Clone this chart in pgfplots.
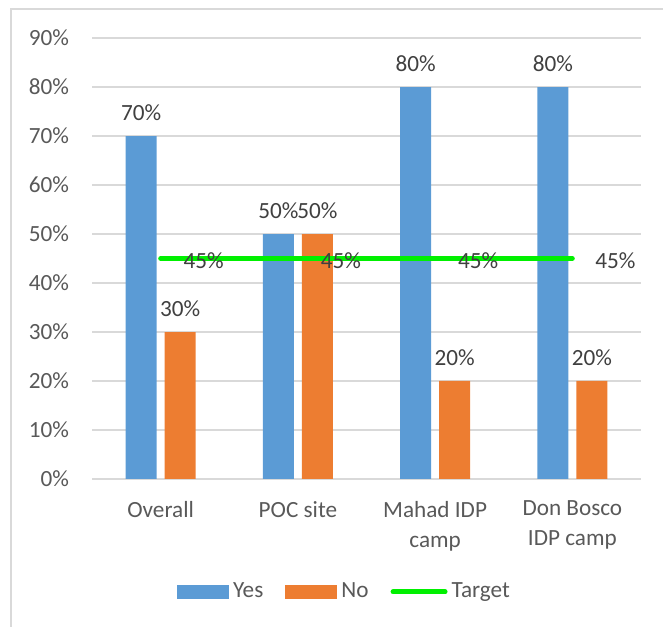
\documentclass[border=0pt]{standalone}
\usepackage{fontspec}
\setmainfont{Carlito}
\usepackage{pgfplots}
\pgfplotsset{compat=1.18}

\definecolor{yescol}{RGB}{91,155,213}
\definecolor{nocol}{RGB}{237,125,49}
\definecolor{tgtcol}{RGB}{0,240,0}
\definecolor{gridcol}{RGB}{217,217,217}
\definecolor{lblcol}{RGB}{64,64,64}
\definecolor{tickcol}{RGB}{89,89,89}

\newcommand{\chartfont}{\fontsize{11.6}{15}\selectfont}

\begin{document}
\begin{tikzpicture}
% picture frame; 0.5pt = one pixel of the reference
\useasboundingbox (0pt,0pt) rectangle (331.5pt,313pt);
\draw[gridcol, line width=1pt] (5.5pt,-10pt) -- (5.5pt,308.5pt) -- (350pt,308.5pt);
\begin{axis}[
  at={(46pt,73.5pt)}, anchor=south west,
  scale only axis, width=274.5pt, height=220.5pt,
  xmin=-0.5, xmax=3.5, ymin=0, ymax=90,
  axis line style={draw=none},
  major tick length=0pt,
  ymajorgrids, grid style={gridcol, line width=0.75pt},
  ytick={0,10,...,90},
  xtick={0,1,2,3},
  xticklabels={Overall, POC site, {Mahad IDP\\camp}, {Don Bosco\\IDP camp}},
  /pgf/number format/assume math mode=true,
  yticklabel={\pgfmathprintnumber{\tick}\%},
  tick label style={font=\chartfont, text=tickcol},
  yticklabel style={xshift=-8pt},
  xticklabel style={align=center, yshift=-7.5pt},
  legend style={at={(0.4617,-0.256)}, anchor=center, draw=none,
    font=\chartfont, text=tickcol, legend columns=3,
    nodes={inner xsep=2pt},
    /tikz/every even column/.append style={column sep=9pt}},
  nodes near coords={\pgfmathprintnumber{\pgfplotspointmeta}\%},
  every node near coord/.append style={font=\chartfont, text=lblcol},
]
\addplot[ybar, bar width=15.5pt, bar shift=-9.75pt, fill=yescol, draw=none,
  every node near coord/.append style={xshift=-9.75pt, yshift=4pt},
  legend image code/.code={\fill[yescol] (0pt,-3.5pt) rectangle (26pt,3.5pt);}]
  coordinates {(0,70) (1,50) (2,80) (3,80)};
\addplot[ybar, bar width=15.5pt, bar shift=9.75pt, fill=nocol, draw=none,
  every node near coord/.append style={xshift=9.75pt, yshift=4pt},
  legend image code/.code={\fill[nocol] (0pt,-3.5pt) rectangle (26pt,3.5pt);}]
  coordinates {(0,30) (1,50) (2,20) (3,20)};
\addplot[tgtcol, line width=2.4pt, line cap=round, mark=none,
  every node near coord/.append style={anchor=west, xshift=7pt, yshift=-1pt},
  legend image code/.code={\draw[tgtcol, line width=2.5pt, line cap=round] (1pt,0pt) -- (27pt,0pt);}]
  coordinates {(0,45) (1,45) (2,45) (3,45)};
\legend{Yes, No, Target}
\end{axis}
\end{tikzpicture}
\end{document}
